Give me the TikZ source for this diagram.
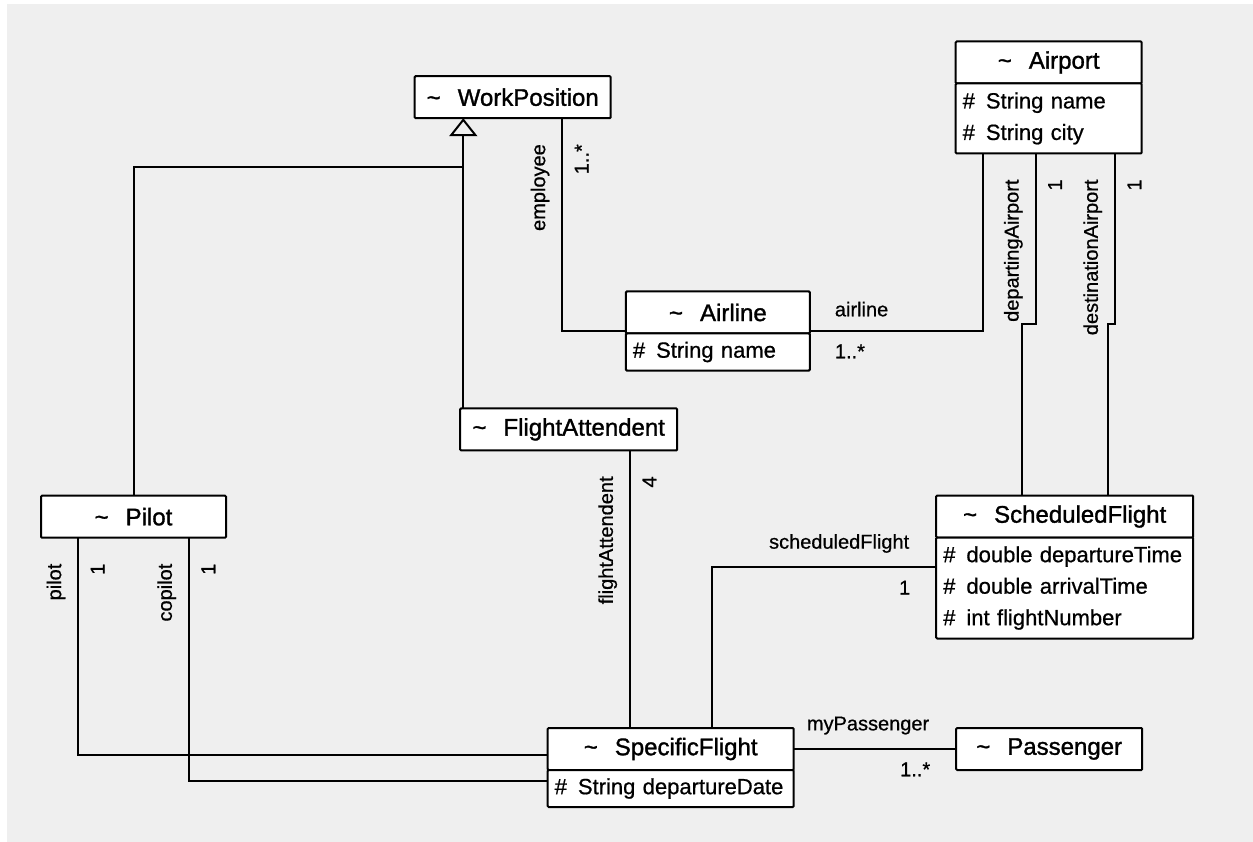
\documentclass[tikz,border=0pt]{standalone}
\usepackage{fontspec}
\setmainfont{Liberation Sans}[FakeBold=0.7]
\usetikzlibrary{arrows.meta,positioning}
\definecolor{canvasgray}{HTML}{EFEFEF}
\newcommand{\clsname}[1]{\textasciitilde\hspace{17pt}#1}
\newcommand{\protattr}[1]{\#\hspace{11pt}#1}

\begin{document}
\begin{tikzpicture}[
  x=1pt, y=-1pt,
  umlclass/.style={draw, line width=2pt, fill=white, rounded corners=1pt, outer sep=0pt,
                   inner sep=0pt, minimum height=42pt,
                   font=\fontsize{24}{28}\selectfont\addfontfeature{FakeBold=1.3}},
  umlattrs/.style={draw, line width=2pt, fill=white, rounded corners=1pt, outer sep=0pt,
                   inner xsep=7pt, inner ysep=0pt, align=left, text width=#1,
                   font=\fontsize{22}{31.5}\selectfont},
  assoc/.style={draw, line width=2pt},
  inherit/.style={assoc, -{Triangle[open, length=18pt, width=28pt]}},
  lbl/.style={inner sep=0pt, font=\fontsize{20}{24}\selectfont},
  rolev/.style={lbl, shift={(-12,25)}, rotate=90, anchor=south east},
  multv/.style={lbl, shift={(11.5,25)}, rotate=90, anchor=north east},
  roler/.style={lbl, shift={(24,-13.5)}, anchor=south west},
  multr/.style={lbl, shift={(24,12.5)}, anchor=north west},
  rolel/.style={lbl, shift={(-26,-13.5)}, anchor=south east},
  multl/.style={lbl, shift={(-25,12.5)}, anchor=north east},
]

\fill[white] (0,0) rectangle (1253,842);
\fill[canvasgray] (7,4) rectangle (1253,842);

\node[umlclass, minimum width=196pt] (wp) at (512.7,97.2) {\clsname{WorkPosition}};
\node[umlclass, minimum width=186pt] (airport) at (1048.7,62.5) {\clsname{Airport}};
\node[umlattrs=172pt, minimum height=70pt, below=0pt of airport] (airportA)
  {\protattr{String name}\\ \protattr{String city}};
\node[umlclass, minimum width=184pt] (airline) at (717.9,312.5) {\clsname{Airline}};
\node[umlattrs=170pt, minimum height=37pt, below=0pt of airline] (airlineA) {\protattr{String name}};
\node[umlclass, minimum width=217pt] (fa) at (568.7,429.4) {\clsname{FlightAttendent}};
\node[umlclass, minimum width=185pt] (pilot) at (133.5,516.7) {\clsname{Pilot}};
\node[umlclass, minimum width=257pt] (sched) at (1064.7,516.5) {\clsname{ScheduledFlight}};
\node[umlattrs=243pt, minimum height=101pt, below=0pt of sched] (schedA)
  {\protattr{double departureTime}\\ \protattr{double arrivalTime}\\ \protattr{int flightNumber}};
\node[umlclass, minimum width=246pt] (spec) at (670.7,749) {\clsname{SpecificFlight}};
\node[umlattrs=232pt, minimum height=37pt, below=0pt of spec] (specA) {\protattr{String departureDate}};
\node[umlclass, minimum width=186pt, right=162.5pt of spec] (pass) {\clsname{Passenger}};

\coordinate (gen) at (463.3,167.3);
\coordinate (emp) at (562.3,331);
\coordinate (air) at (983,331);
\coordinate (dep) at (1035.7,324.3);
\coordinate (depB) at (1022,324.3);
\coordinate (dst) at (1115,324.3);
\coordinate (dstB) at (1107.7,324.3);
\coordinate (sf) at (712,567.3);
\coordinate (fat) at (630,600);
\coordinate (pil) at (78.3,755);
\coordinate (cop) at (189,781);

\draw[inherit] (fa.north -| gen) -- (wp.south -| gen);
\draw[assoc] (pilot.north) |- (gen);

\draw[assoc] (wp.south -| emp) node[rolev] (empRole) {employee} node[multv] (empMult) {1..*}
  -- (emp) -- (airline.west |- emp);
\draw[assoc] (airline.east |- air) node[roler] (airRole) {airline} node[multr] (airMult) {1..*}
  -- (air) -- (airportA.south -| air);
\draw[assoc] (airportA.south -| dep) node[rolev] (depRole) {departingAirport} node[multv] (depMult) {1}
  -- (dep) -- (depB) -- (sched.north -| depB);
\draw[assoc] (airportA.south -| dst) node[rolev] (dstRole) {destinationAirport} node[multv] (dstMult) {1}
  -- (dst) -- (dstB) -- (sched.north -| dstB);
\draw[assoc] (sched.west |- sf) node[rolel] (sfRole) {scheduledFlight} node[multl] (sfMult) {1}
  -- (sf) -- (spec.north -| sf);
\draw[assoc] (fa.south -| fat) node[rolev] (fatRole) {flightAttendent} node[multv] (fatMult) {4}
  -- (spec.north -| fat);
\draw[assoc] (pilot.south -| pil) node[rolev] (pilRole) {pilot} node[multv] (pilMult) {1}
  -- (pil) -- (spec.west |- pil);
\draw[assoc] (pilot.south -| cop) node[rolev] (copRole) {copilot} node[multv] (copMult) {1}
  -- (cop) -- (specA.west |- cop);
\draw[assoc] (pass.west) node[rolel] (passRole) {myPassenger} node[multl] (passMult) {1..*}
  -- (spec.east);

\end{tikzpicture}
\end{document}
